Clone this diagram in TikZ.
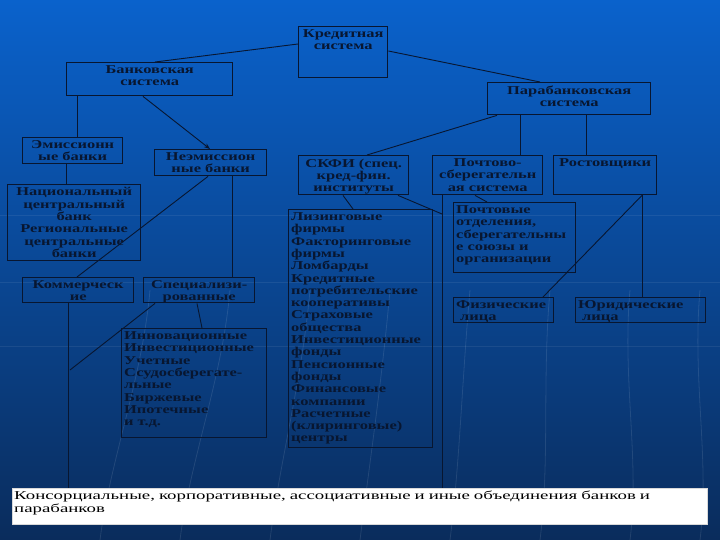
\documentclass[tikz,border=0pt]{standalone}
\usepackage{fontspec}
\setmainfont{Liberation Serif}[FakeStretch=1.37]
\newfontfamily\btmfont{Liberation Serif}[FakeStretch=1.57]
\usetikzlibrary{arrows.meta}
\definecolor{ink}{HTML}{081630}
\definecolor{bgtop}{HTML}{0A62CC}
\definecolor{bgmid}{HTML}{0B4FA6}
\definecolor{bgbot}{HTML}{0A2C5C}
\tikzset{
  box/.style={draw=ink, line width=1.4pt, inner sep=0pt},
  tx/.style={text=ink, inner xsep=0pt, inner ysep=3.5pt, font=\fontsize{12}{12.3}\selectfont\bfseries},
  conn/.style={draw=ink, line width=0.9pt},
  deco/.style={draw=white, opacity=0.10, line width=0.8pt}
}
\newcommand\bx[7]{%
  \node[box, minimum width=#4pt, minimum height=#5pt, anchor=north west] (#1) at (#2,#3) {};
  \pgfmathsetmacro\tw{#4-5}%
  \node[tx, align=#6, text width=\tw pt, anchor=north] (#1t) at (#1.north) {#7};}
\begin{document}
\begin{tikzpicture}[x=1pt,y=-1pt]
\useasboundingbox (0,0) rectangle (720,540);
\shade[top color=bgtop, middle color=bgmid, bottom color=bgbot] (0,0) rectangle (720,540);
% faint decoration
\foreach \a/\b in {150/120,230/200,310/290,390/380,470/470,550/560,630/650,700/720}{
  \draw[deco] (\a,290) .. controls (\a-8,380) and (\b-10,460) .. (\b-20,540);}
\foreach \yy in {215,282,346}{\draw[deco, opacity=0.07] (0,\yy) -- (720,\yy);}
% boxes
\bx{kred}{298}{26}{89}{51}{center}{Кредитная\\система}
\bx{bank}{66}{62}{166}{33}{center}{Банковская\\система}
\bx{para}{487}{82}{163}{32}{center}{Парабанковская\\система}
\bx{emis}{22}{137}{100}{26}{center}{Эмиссионн\\ые банки}
\bx{neem}{154}{149}{112}{26}{center}{Неэмиссион\\ные банки}
\bx{nats}{7}{184}{133}{76}{center}{Национальный\\центральный\\банк\\Региональные\\центральные\\банки}
\bx{komm}{22}{277}{111}{25}{center}{Коммерческ\\ие}
\bx{spec}{143}{277}{111}{25}{center}{Специализи-\\рованные}
\bx{innov}{121}{328}{145}{109}{left}{Инновационные\\Инвестиционные\\Учетные\\Ссудосберегате-\\льные\\Биржевые\\Ипотечные\\и т.д.}
\bx{skfi}{298}{155}{110}{39}{center}{СКФИ (спец.\\кред-фин.\\институты}
\bx{pocht}{432}{155}{110}{39}{center}{Почтово-\\сберегательн\\ая система}
\bx{rost}{553}{155}{103}{39}{center}{Ростовщики}
\bx{lizing}{288}{209}{144}{238}{left}{Лизинговые\\фирмы\\Факторинговые\\фирмы\\Ломбарды\\Кредитные\\потребительские\\кооперативы\\Страховые\\общества\\Инвестиционные\\фонды\\Пенсионные\\фонды\\Финансовые\\компании\\Расчетные\\(клиринговые)\\центры}
\bx{pochtotd}{453}{202}{122}{70}{left}{Почтовые\\отделения,\\сберегательны\\е союзы и\\организации}
\bx{fiz}{453}{297}{100}{25}{left}{Физические\\\ лица}
\bx{yur}{575}{297}{130}{25}{left}{Юридические\\\ лица}
% bottom box
\node[fill=white, draw=white!85!black, line width=0.5pt, minimum width=695pt, minimum height=36pt, anchor=north west, inner sep=0pt] (cons) at (12,488) {};
\node[anchor=north west, text width=690pt, align=left, inner xsep=2pt, inner ysep=3pt, font=\btmfont\fontsize{12}{12.8}\selectfont, text=black] (const) at (cons.north west) {Консорциальные, корпоративные, ассоциативные и иные объединения банков и\\парабанков};
% connectors
\coordinate (j1) at (70,370);
\coordinate (j2) at (442,214);
\draw[conn] (kred.west |- 0,44) -- (bank.north -| 155,0);
\draw[conn] (kred.east |- 0,51) -- (para.north -| 540,0);
\draw[conn] (bank.south -| 77,0) -- (emis.north -| 77,0);
\draw[conn, -{Stealth[length=6pt,width=4.5pt]}] (bank.south -| 143,0) -- (neem.north -| 210,0);
\draw[conn] (emis.south -| 66,0) -- (nats.north -| 66,0);
\draw[conn] (neem.south -| 208,0) -- (komm.north -| 77,0);
\draw[conn] (neem.south -| 232,0) -- (spec.north -| 232,0);
\draw[conn] (spec.south -| 197,0) -- (innov.north -| 202,0);
\draw[conn] (spec.south -| 155,0) -- (j1);
\draw[conn] (komm.south -| 68,0) -- (cons.north -| 68,0);
\draw[conn] (para.south -| 497,0) -- (skfi.north -| 367,0);
\draw[conn] (para.south -| 520,0) -- (pocht.north -| 520,0);
\draw[conn] (para.south -| 586,0) -- (rost.north -| 586,0);
\draw[conn] (skfi.south -| 343,0) -- (lizing.north -| 353,0);
\draw[conn] (skfi.south -| 398,0) -- (j2);
\draw[conn] (pocht.south -| 442,0) -- (cons.north -| 442,0);
\draw[conn] (pocht.south -| 475,0) -- (pochtotd.north -| 487,0);
\draw[conn] (rost.south -| 642,0) -- (fiz.north -| 543,0);
\draw[conn] (rost.south -| 642,0) -- (yur.north -| 642,0);
\end{tikzpicture}
\end{document}
